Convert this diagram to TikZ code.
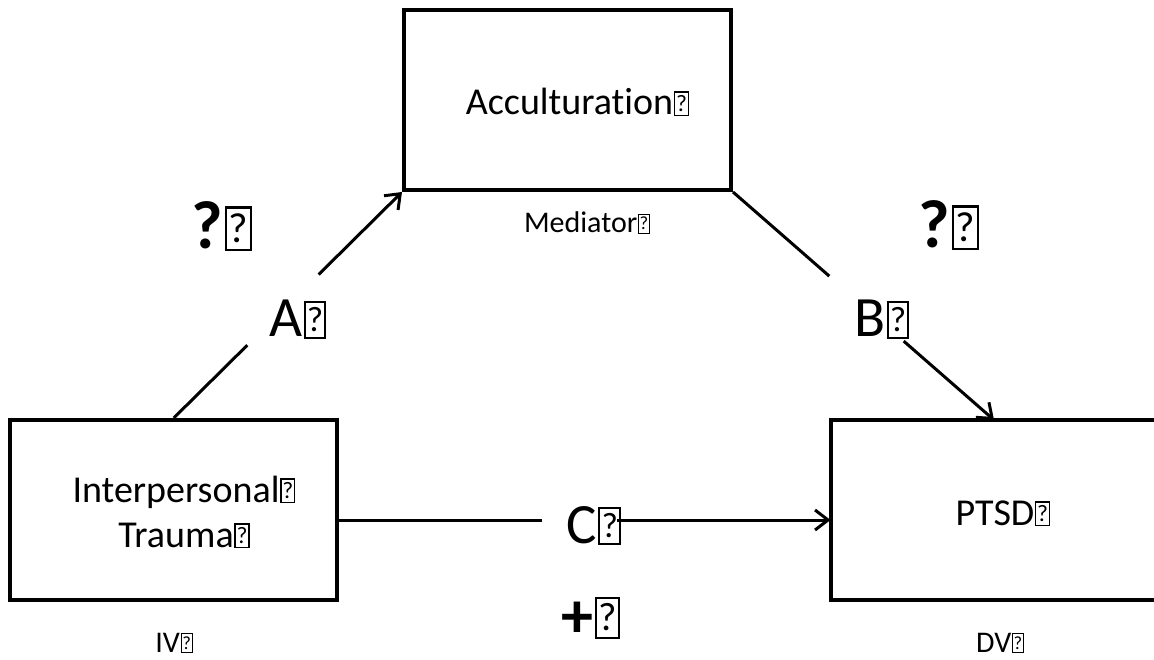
\documentclass[tikz,border=0pt]{standalone}
\usepackage{fontspec}
\setmainfont{Carlito}[Ligatures=NoCommon]
\usepackage{graphicx}
\usetikzlibrary{arrows.meta,calc}

% small framed question mark that follows each label
\newcommand\qglyph{\kern0.02em{\mdseries\setlength\fboxsep{0pt}\setlength\fboxrule{0.035em}%
  \fbox{\makebox[0.33em]{\rule{0pt}{0.59em}\raisebox{0.1em}{\scalebox{0.62}{?}}}}}}

\tikzset{
  varbox/.style={draw, rectangle, line width=4pt, minimum width=327pt,
    minimum height=180pt, inner sep=0pt},
  boxline/.style={line width=4pt},
  link/.style={line width=3pt},
  arr/.style={link, -{Straight Barb[length=13pt,width=20pt]}},
  lbl/.style={inner sep=0pt, anchor=base},
  big/.style={lbl, font=\fontsize{38}{46}\selectfont},
  small/.style={lbl, font=\fontsize{30}{36}\selectfont},
  path/.style={lbl, font=\fontsize{57}{68}\selectfont},
  sign/.style={lbl, font=\fontsize{#1}{#1}\selectfont\bfseries},
}

\begin{document}
\begin{tikzpicture}[x=1pt, y=-1pt]
\useasboundingbox (0,0) rectangle (1154,660);
\fill[white] (0,0) rectangle (1154,660);

% variable boxes
\node[varbox] (accult) at (567.5,100) {};
\node[varbox] (trauma) at (173.75,510) {};
% the outcome box runs out to the right edge: only three sides are drawn
\node[varbox, draw=none, outer sep=0pt, minimum width=323.5pt] (ptsd) at (992.25,510) {};
\draw[boxline] (ptsd.north east) -- (ptsd.north west)
  -- (ptsd.south west) -- (ptsd.south east);
\coordinate (ptop) at ([xshift=163.5pt]ptsd.north west);

% break points of the paths around their labels
\coordinate (a1) at ($(trauma.north)!0.322!(accult.south west)$);
\coordinate (a2) at ($(trauma.north)!0.635!(accult.south west)$);
\coordinate (b1) at ($(accult.south east)!0.369!(ptop)$);
\coordinate (b2) at ($(accult.south east)!0.654!(ptop)$);
\coordinate (c0) at ([yshift=-10pt]trauma.east);
\coordinate (c3) at ([yshift=-10pt]ptsd.west);
\coordinate (c1) at (542,520);
\coordinate (c2) at (617,520);

% path a: trauma -> acculturation
\draw[link] (trauma.north) -- (a1);
\draw[arr] (a2) -- (accult.south west);
% path b: acculturation -> PTSD
\draw[link] (accult.south east) -- (b1);
\draw[arr] (b2) -- (ptop);
% path c: trauma -> PTSD
\draw[link] (c0) -- (c1);
\draw[arr] (c2) -- (c3);

% box texts and roles
\node[big] (tAcc) at (577.5,115) {Acculturation\qglyph};
\node[small] (tMed) at (587,233) {Mediator\qglyph};
\node[big] (tInter) at (184,502) {Interpersonal\qglyph};
\node[big] (tTrauma) at (184,547) {Trauma\qglyph};
\node[small] (tIV) at (174,652) {IV\qglyph};
\node[big] (tPtsd) at (1003,525) {PTSD\qglyph};
\node[small] (tDV) at (1000,652) {DV\qglyph};

% path labels
\node[path] (la) at (298,337) {A\qglyph};
\node[path] (lb) at (882,337) {B\qglyph};
\node[path] (lc) at (594,543) {C\qglyph};

% expected signs
\node[sign=68] (sa) at (222,249) {?\qglyph};
\node[sign=68] (sb) at (949,248) {?\qglyph};
\node[sign=64] (sc) at (591,637) {+\qglyph};
\end{tikzpicture}
\end{document}
